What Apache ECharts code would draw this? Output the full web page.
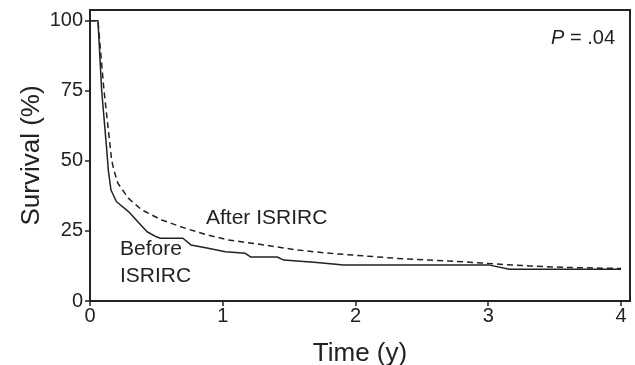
<!DOCTYPE html>
<html>
<head>
<meta charset="utf-8">
<script src="https://cdn.jsdelivr.net/npm/echarts@6/dist/echarts.min.js"></script>
<style>
html,body{margin:0;padding:0;background:#fff;}
#chart{width:635px;height:365px;}
</style>
</head>
<body>
<div id="chart"></div>
<script>
var xTicks = [0, 1, 2, 3, 4];
var yTicks = [0, 25, 50, 75, 100];

var beforeTime = [0, 0.06, 0.088, 0.126, 0.138, 0.158, 0.20, 0.29, 0.36, 0.43, 0.50, 0.53, 0.70, 0.76, 0.89, 1.02, 1.17, 1.21, 1.41, 1.46, 1.71, 1.91, 3.01, 3.16, 4.0];
var beforeSurv = [100, 100, 75, 54, 46.7, 39.6, 35.4, 31.9, 28.3, 24.7, 22.9, 22.4, 22.4, 20.0, 18.8, 17.6, 17.0, 15.7, 15.7, 14.6, 13.7, 12.8, 12.8, 11.3, 11.3];

var afterTime = [0, 0.06, 0.105, 0.163, 0.18, 0.21, 0.29, 0.39, 0.54, 0.72, 0.89, 1.04, 1.31, 1.56, 1.81, 2.06, 2.31, 2.56, 2.81, 3.06, 3.31, 3.56, 4.0];
var afterSurv = [100, 100, 75.3, 50.3, 46.7, 42, 36.6, 32.5, 28.9, 25.9, 23.5, 21.8, 20.0, 18.2, 17.0, 16.1, 15.2, 14.6, 14.0, 13.2, 12.5, 12.0, 11.6];

function pairs(xs, ys) { return xs.map(function (x, i) { return [x, ys[i]]; }); }

var FONT = 'Liberation Sans, Arial, sans-serif';
var INK = '#222';

var chart = echarts.init(document.getElementById('chart'), null, { renderer: 'canvas' });
chart.setOption({
  backgroundColor: '#fff',
  animation: false,
  grid: { left: 90, right: 5, top: 10, bottom: 64, outerBoundsMode: 'none', containLabel: false,
          show: true, borderColor: INK, borderWidth: 2, backgroundColor: 'transparent' },
  xAxis: {
    type: 'value', min: 0, max: 4.068,
    name: 'Time (y)', nameLocation: 'middle', nameGap: 40, nameMoveOverlap: false,
    nameTextStyle: { fontFamily: FONT, fontSize: 26, color: INK },
    axisLine: { show: true, onZero: false, lineStyle: { color: INK, width: 2 } },
    axisTick: { show: true, length: 5, customValues: xTicks, lineStyle: { color: INK, width: 1.5 } },
    axisLabel: { customValues: xTicks, fontFamily: FONT, fontSize: 20, color: INK, margin: 5 },
    splitLine: { show: false }
  },
  yAxis: {
    type: 'value', min: 0, max: 103.8,
    name: 'Survival (%)', nameLocation: 'middle', nameGap: 45, nameMoveOverlap: false,
    nameTextStyle: { fontFamily: FONT, fontSize: 26, color: INK },
    axisLine: { show: true, onZero: false, lineStyle: { color: INK, width: 2 } },
    axisTick: { show: true, length: 5, customValues: yTicks, lineStyle: { color: INK, width: 1.5 } },
    axisLabel: { customValues: yTicks, fontFamily: FONT, fontSize: 20, color: INK, margin: 7 },
    splitLine: { show: false }
  },
  series: [
    {
      name: 'Before ISRIRC', type: 'line', data: pairs(beforeTime, beforeSurv),
      showSymbol: false, symbol: 'none',
      lineStyle: { color: INK, width: 1.5, type: 'solid' }
    },
    {
      name: 'After ISRIRC', type: 'line', data: pairs(afterTime, afterSurv),
      showSymbol: false, symbol: 'none',
      lineStyle: { color: INK, width: 1.5, type: [6, 4] }
    }
  ],
  graphic: [
    { type: 'text', left: 206, top: 208, style: { text: 'After ISRIRC', font: '21px ' + FONT, fill: INK } },
    { type: 'text', left: 120, top: 236, style: { text: 'Before\nISRIRC', font: '21px ' + FONT, fill: INK, lineHeight: 27 } },
    { type: 'text', right: 20, top: 28, style: {
        text: '{i|P} = .04', font: '20px ' + FONT, fill: INK,
        rich: { i: { fontStyle: 'italic', fontFamily: FONT, fontSize: 20, fill: INK, color: INK } }
    } }
  ]
});
</script>
</body>
</html>
